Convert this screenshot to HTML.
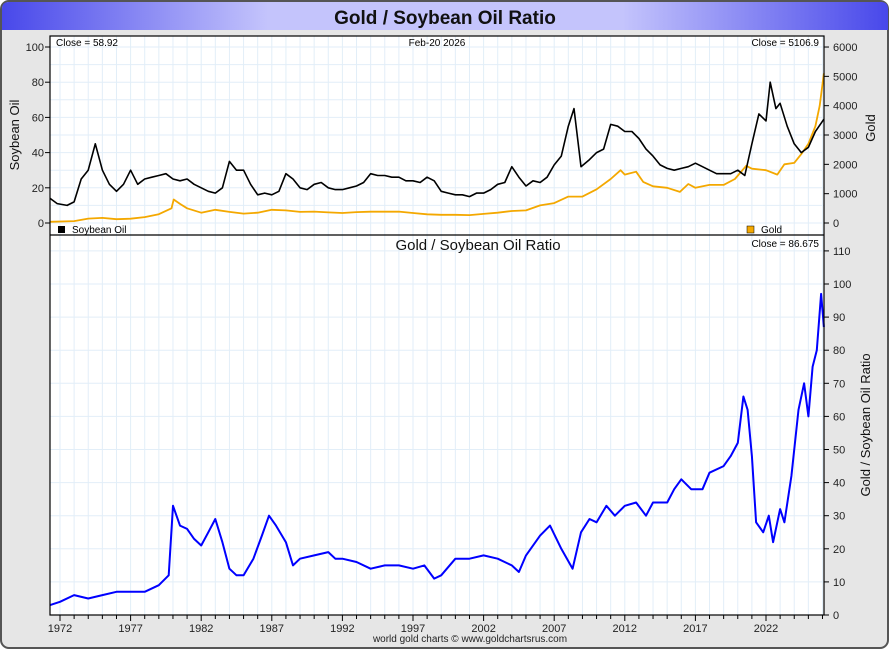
<!DOCTYPE html>
<html><head><meta charset="utf-8"><style>
html,body{margin:0;padding:0;background:#fff;}
svg{display:block;font-family:"Liberation Sans",sans-serif;}
</style></head><body>
<svg id="chart" width="890" height="650" viewBox="0 0 890 650">
<defs>
<linearGradient id="tg" x1="0" x2="1" y1="0" y2="0">
<stop offset="0" stop-color="#4848ea"/><stop offset="0.3" stop-color="#c4c4fc"/><stop offset="0.7" stop-color="#c4c4fc"/><stop offset="1" stop-color="#4848ea"/>
</linearGradient>
</defs>
<rect x="1" y="1" width="887" height="647" rx="8" fill="#e6e6e6" stroke="#555" stroke-width="2"/>
<path d="M2,30 L2,9 Q2,2 9,2 L881,2 Q888,2 888,9 L888,30 Z" fill="url(#tg)"/>
<text x="445" y="24" text-anchor="middle" font-size="19" font-weight="bold" fill="#111">Gold / Soybean Oil Ratio</text>
<rect x="50" y="36" width="774" height="579" fill="#fff"/>
<g id="grid"></g>
<g id="series"></g>
<rect x="50" y="36" width="774" height="579" fill="none" stroke="#000" stroke-width="1.2"/>
<line x1="50" y1="235" x2="824" y2="235" stroke="#000" stroke-width="1.2"/>
<g id="axes" font-size="11" fill="#222"></g>
<text x="56" y="46" font-size="10" fill="#000">Close = 58.92</text>
<text x="437" y="46" text-anchor="middle" font-size="10" fill="#000">Feb-20  2026</text>
<text x="819" y="46" text-anchor="end" font-size="10" fill="#000">Close = 5106.9</text>
<rect x="58" y="226" width="7" height="7" fill="#000"/>
<text x="72" y="233" font-size="10">Soybean Oil</text>
<rect x="747" y="226" width="7" height="7" fill="#f4a800" stroke="#000" stroke-width="0.5"/>
<text x="761" y="233" font-size="10">Gold</text>
<text x="478" y="250" text-anchor="middle" font-size="15" fill="#111">Gold  /  Soybean Oil Ratio</text>
<text x="819" y="247" text-anchor="end" font-size="10" fill="#000">Close = 86.675</text>
<text transform="translate(19,135) rotate(-90)" text-anchor="middle" font-size="13" fill="#111">Soybean Oil</text>
<text transform="translate(875,128) rotate(-90)" text-anchor="middle" font-size="13" fill="#111">Gold</text>
<text transform="translate(870,425) rotate(-90)" text-anchor="middle" font-size="13" fill="#111">Gold / Soybean Oil Ratio</text>
<text x="470" y="642" text-anchor="middle" font-size="10" fill="#222">world gold charts © www.goldchartsrus.com</text>
</svg>
<script>
const soyYears=[1971.3,1971.8,1972.5,1973,1973.5,1974,1974.5,1975,1975.5,1976,1976.5,1977,1977.5,1978,1978.5,1979,1979.5,1980,1980.5,1981,1981.5,1982,1982.5,1983,1983.5,1984,1984.5,1985,1985.5,1986,1986.5,1987,1987.5,1988,1988.5,1989,1989.5,1990,1990.5,1991,1991.5,1992,1992.5,1993,1993.5,1994,1994.5,1995,1995.5,1996,1996.5,1997,1997.5,1998,1998.5,1999,1999.5,2000,2000.5,2001,2001.5,2002,2002.5,2003,2003.5,2004,2004.5,2005,2005.5,2006,2006.5,2007,2007.5,2008,2008.4,2008.9,2009.5,2010,2010.5,2011,2011.5,2012,2012.5,2013,2013.5,2014,2014.5,2015,2015.5,2016,2016.5,2017,2017.5,2018,2018.5,2019,2019.5,2020,2020.5,2021,2021.5,2022,2022.3,2022.7,2023,2023.5,2024,2024.5,2025,2025.5,2026.1];
const soyValues=[14,11,10,12,25,30,45,30,22,18,22,30,22,25,26,27,28,25,24,25,22,20,18,17,20,35,30,30,22,16,17,16,18,28,25,20,19,22,23,20,19,19,20,21,23,28,27,27,26,26,24,24,23,26,24,18,17,16,16,15,17,17,19,22,23,32,26,21,24,23,26,33,38,55,65,32,36,40,42,56,55,52,52,48,42,38,33,31,30,31,32,34,32,30,28,28,28,30,27,45,62,58,80,65,68,55,45,40,43,52,59];
const goldYears=[1971.3,1973,1974,1975,1976,1977,1978,1979,1979.9,1980.05,1980.5,1981,1982,1983,1984,1985,1986,1987,1988,1989,1990,1991,1992,1993,1994,1995,1996,1997,1998,1999,2000,2001,2002,2003,2004,2005,2006,2007,2008,2009,2010,2011,2011.7,2012,2012.8,2013.3,2014,2015,2015.9,2016.5,2017,2018,2019,2019.8,2020.6,2021,2022,2022.8,2023.3,2024,2024.5,2025,2025.5,2025.8,2026.1];
const goldValues=[40,65,150,175,130,145,200,300,500,800,650,500,350,450,380,320,350,450,430,380,390,360,340,370,385,385,390,340,295,280,280,270,310,350,410,430,600,680,900,900,1150,1500,1800,1650,1750,1400,1250,1200,1060,1330,1200,1300,1300,1500,1950,1850,1800,1650,2000,2050,2350,2700,3300,4000,5100];
const ratioYears=[1971.3,1972,1973,1974,1975,1976,1977,1978,1979,1979.7,1980,1980.5,1981,1981.5,1982,1982.5,1983,1983.5,1984,1984.5,1985,1985.7,1986.3,1986.8,1987.3,1988,1988.5,1989,1990,1991,1991.5,1992,1993,1994,1995,1996,1997,1997.8,1998.5,1999,2000,2001,2002,2003,2004,2004.5,2005,2006,2006.7,2007.5,2008.3,2008.9,2009.5,2010,2010.7,2011.3,2012,2012.8,2013.5,2014,2015,2015.5,2016,2016.7,2017.5,2018,2019,2019.5,2020,2020.4,2020.7,2021,2021.3,2021.8,2022.2,2022.5,2023,2023.3,2023.8,2024.3,2024.7,2025,2025.3,2025.6,2025.9,2026.1];
const ratioValues=[3,4,6,5,6,7,7,7,9,12,33,27,26,23,21,25,29,22,14,12,12,17,24,30,27,22,15,17,18,19,17,17,16,14,15,15,14,15,11,12,17,17,18,17,15,13,18,24,27,20,14,25,29,28,33,30,33,34,30,34,34,38,41,38,38,43,45,48,52,66,62,48,28,25,30,22,32,28,42,62,70,60,75,80,97,87];
const leftTicks=[0,20,40,60,80,100];
const goldTicks=[0,1000,2000,3000,4000,5000,6000];
const ratioTicks=[0,10,20,30,40,50,60,70,80,90,100,110];
const yearLabels=[1972,1977,1982,1987,1992,1997,2002,2007,2012,2017,2022];

const NS="http://www.w3.org/2000/svg";
const X=y=>60+(y-1972)*14.12;
const YS=v=>223-v*1.76;
const YG=v=>223-v*0.02933;
const YR=v=>615-v*3.31;
function mk(tag,attrs,parent){const e=document.createElementNS(NS,tag);for(const k in attrs)e.setAttribute(k,attrs[k]);parent.appendChild(e);return e;}
const grid=document.getElementById('grid'),series=document.getElementById('series'),axes=document.getElementById('axes');
for(let yr=1972;yr<=2026;yr++){const x=X(yr);
 const g=mk('line',{x1:x,x2:x,y1:36,y2:615,stroke:'#e2eef8','stroke-width':1},grid);
 
 
 const t=mk('line',{x1:x,x2:x,y1:615,y2:yearLabels.includes(yr)?621:619,stroke:'#000'},axes);
 
 
}
yearLabels.forEach(yr=>{const t=mk('text',{x:X(yr),y:632,'text-anchor':'middle','font-size':11},axes);t.textContent=yr;
 
 });
for(let v=0;v<=100;v+=10){const l=mk('line',{x1:50,x2:824,y1:YS(v),y2:YS(v),stroke:'#e2eef8'},grid);
 
 }
ratioTicks.forEach(v=>{const l=mk('line',{x1:50,x2:824,y1:YR(v),y2:YR(v),stroke:'#e2eef8'},grid);
 
 
 mk('line',{x1:824,x2:829,y1:YR(v),y2:YR(v),stroke:'#000'},axes);
 const t=mk('text',{x:833,y:YR(v)+4,'font-size':11},axes);t.textContent=v;
 
 });
leftTicks.forEach(v=>{mk('line',{x1:45,x2:50,y1:YS(v),y2:YS(v),stroke:'#000'},axes);
 const t=mk('text',{x:44,y:YS(v)+4,'text-anchor':'end','font-size':11},axes);t.textContent=v;
 
 });
goldTicks.forEach(v=>{mk('line',{x1:824,x2:829,y1:YG(v),y2:YG(v),stroke:'#000'},axes);
 const t=mk('text',{x:833,y:YG(v)+4,'font-size':11},axes);t.textContent=v;
 
 });
function line(xs,vs,fy,color,w){return mk('polyline',{points:xs.map((y,i)=>X(y).toFixed(1)+','+fy(vs[i]).toFixed(1)).join(' '),fill:'none',stroke:color,'stroke-width':w,'stroke-linejoin':'round'},series);}
const gl=line(goldYears,goldValues,YG,'#f4a800',1.8);


const sl=line(soyYears,soyValues,YS,'#000',1.6);


const rl=line(ratioYears,ratioValues,YR,'#0000ff',2);


</script>
</body></html>
